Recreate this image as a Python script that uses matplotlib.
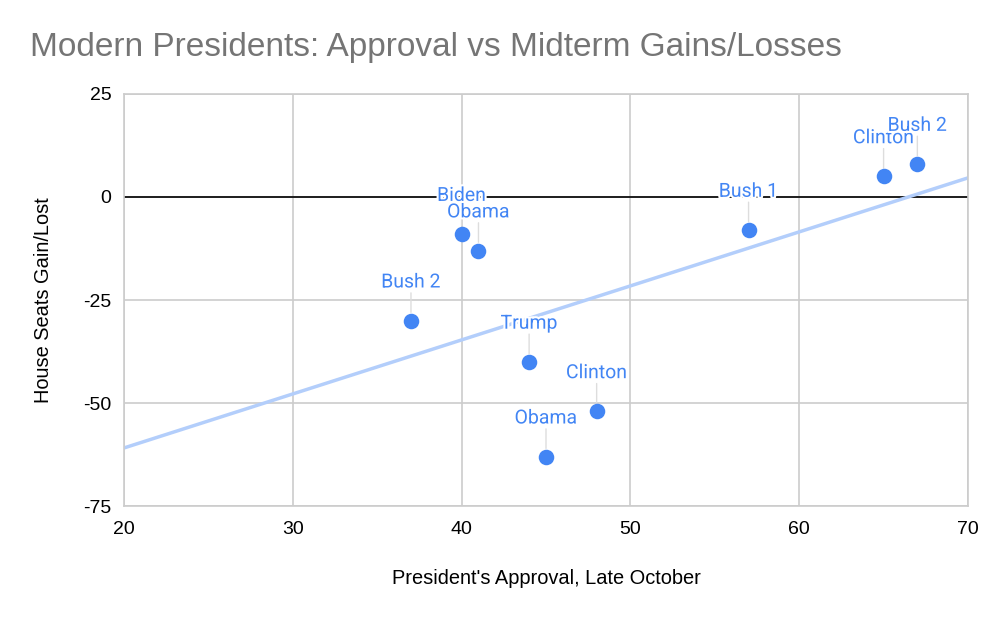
import matplotlib.pyplot as plt
import matplotlib.patheffects as pe
import numpy as np

# president's approval (late October) vs house seats gained/lost at the midterm
names = ["Bush 1", "Clinton", "Clinton", "Bush 2", "Bush 2", "Obama", "Obama", "Trump", "Biden"]
approval = [57, 48, 65, 67, 37, 45, 41, 44, 40]
seats = [-8, -52, 5, 8, -30, -63, -13, -40, -9]

x_ticks = [20, 30, 40, 50, 60, 70]
y_ticks = [-75, -50, -25, 0, 25]

blue = "#4285f4"
grid = "#cccccc"

plt.rcParams["axes.unicode_minus"] = False

fig = plt.figure(figsize=(10, 6.18), dpi=100)
ax = fig.add_axes([0.124, 0.181, 0.844, 0.667])

ax.set_xlim(20, 70)
ax.set_ylim(-75, 25)
ax.set_xticks(x_ticks)
ax.set_yticks(y_ticks)
ax.grid(True, color=grid, linewidth=1.2)
ax.axhline(0, color="black", linewidth=1.2, zorder=2)
for s in ax.spines.values():
    s.set_color(grid)
    s.set_linewidth(1.2)
ax.tick_params(length=0, labelsize=14, pad=9)
ax.tick_params(axis="x", pad=11)
for lab in ax.get_xticklabels() + ax.get_yticklabels():
    lab.set_fontfamily("Liberation Sans")

# linear trendline
m, b = np.polyfit(approval, seats, 1)
xs = np.array([20, 70])
ax.plot(xs, m * xs + b, color="#b3cefb", linewidth=2.5, zorder=2.2)

ax.scatter(approval, seats, s=125, color=blue, zorder=4, linewidths=0)

halo = [pe.withStroke(linewidth=3, foreground="white")]
for n, xv, yv in zip(names, approval, seats):
    ax.annotate("", (xv, yv), xytext=(0, 20), textcoords="offset points",
                arrowprops=dict(arrowstyle="-", color="#dddddd", lw=1,
                                shrinkA=0, shrinkB=6), zorder=3)
    ax.annotate(n, (xv, yv), xytext=(0, 21), textcoords="offset points",
                ha="center", va="bottom", color=blue, fontsize=14,
                fontfamily="Roboto", zorder=5, path_effects=halo)

ax.set_xlabel("President's Approval, Late October", fontsize=14.4,
              fontfamily="Liberation Sans", labelpad=22)
ax.set_ylabel("House Seats Gain/Lost", fontsize=14.4,
              fontfamily="Liberation Sans", labelpad=22)

fig.text(0.03, 0.923, "Modern Presidents: Approval vs Midterm Gains/Losses",
         fontsize=24, color="#757575", fontfamily="Liberation Sans", va="center")

fig.savefig("out.png", dpi=100, facecolor="white")
